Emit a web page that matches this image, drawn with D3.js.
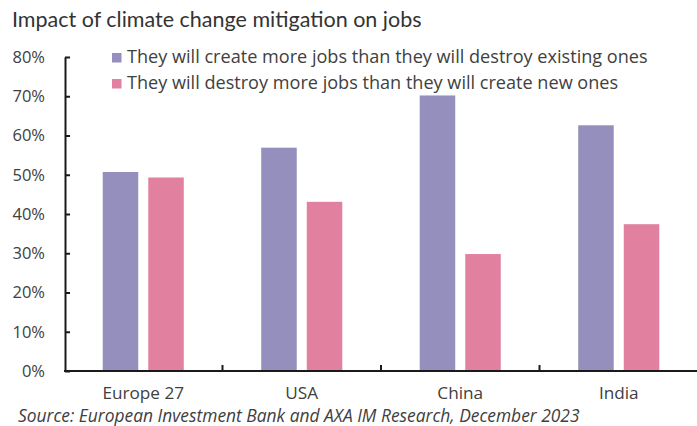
<!DOCTYPE html>
<html>
<head>
<meta charset="utf-8">
<script src="https://cdn.jsdelivr.net/npm/d3@7/dist/d3.min.js"></script>
<style>
  html, body { margin: 0; padding: 0; background: #fff; }
  svg { display: block; }
  text { font-family: "Open Sans", Lato, sans-serif; fill: #404040; }
</style>
</head>
<body>
<svg id="chart" width="697" height="426"></svg>
<script>
// Survey shares by region (fraction of respondents)
const regions = ["Europe 27", "USA", "China", "India"];
const seriesNames = [
  "They will create more jobs than they will destroy existing ones",
  "They will destroy more jobs than they will create new ones"
];
const createMore = [0.507, 0.569, 0.702, 0.626];
const destroyMore = [0.493, 0.431, 0.298, 0.374];
const yTickValues = [0, 0.1, 0.2, 0.3, 0.4, 0.5, 0.6, 0.7, 0.8];
const seriesColors = ["#948fbc", "#e280a0"];

const svg = d3.select("#chart");
const plot = { left: 65, right: 697, top: 57, bottom: 371 };

const rows = regions.map((r, i) => ({ region: r, values: [createMore[i], destroyMore[i]] }));

const x0 = d3.scaleBand().domain(regions).range([64, 698]).paddingInner(0).paddingOuter(0);
const x1 = d3.scaleBand().domain([0, 1]).range([0, x0.bandwidth()]).paddingInner(0.22).paddingOuter(0.85);
const y = d3.scaleLinear().domain([0, 0.8]).range([plot.bottom, plot.top]);

// Chart subtitle
svg.append("text")
  .attr("x", 12).attr("y", 27)
  .style("font-family", "Lato, 'Open Sans', sans-serif")
  .style("font-size", "21.5px")
  .style("fill", "#333")
  .text("Impact of climate change mitigation on jobs");

// Bars
const groups = svg.append("g").selectAll("g")
  .data(rows).join("g")
  .attr("transform", d => `translate(${x0(d.region)},0)`);

groups.selectAll("rect")
  .data(d => d.values.map((v, k) => ({ k, v })))
  .join("rect")
  .attr("x", d => x1(d.k))
  .attr("width", x1.bandwidth())
  .attr("y", d => y(d.v))
  .attr("height", d => y(0) - y(d.v))
  .attr("fill", d => seriesColors[d.k]);

// Y axis with inward ticks
const yAxis = d3.axisLeft(y)
  .tickValues(yTickValues)
  .tickFormat(d3.format(".0%"))
  .tickSizeInner(-5)
  .tickSizeOuter(0)
  .tickPadding(20);

const gy = svg.append("g")
  .attr("transform", `translate(${plot.left},0)`)
  .call(yAxis);
gy.select(".domain").attr("stroke", "#1a1a1a").attr("stroke-width", 2);
gy.selectAll(".tick line").attr("stroke", "#1a1a1a").attr("stroke-width", 2);
gy.selectAll(".tick text")
  .style("font-family", "'Open Sans', Lato, sans-serif")
  .style("font-size", "16.5px")
  .attr("fill", "#404040");

// X axis baseline, category labels and boundary ticks
svg.append("line")
  .attr("x1", plot.left - 1).attr("x2", plot.right)
  .attr("y1", y(0)).attr("y2", y(0))
  .attr("stroke", "#1a1a1a").attr("stroke-width", 2);

const xAxis = d3.axisBottom(x0).tickSize(0);
const gx = svg.append("g")
  .attr("transform", `translate(0,${y(0)})`)
  .call(xAxis);
gx.select(".domain").remove();
gx.selectAll(".tick text")
  .attr("y", 28)
  .attr("dy", null)
  .style("font-family", "'Open Sans', Lato, sans-serif")
  .style("font-size", "17.2px")
  .attr("fill", "#404040");

svg.append("g").selectAll("line")
  .data(regions.slice(0, -1))
  .join("line")
  .attr("x1", d => x0(d) + x0.step())
  .attr("x2", d => x0(d) + x0.step())
  .attr("y1", y(0))
  .attr("y2", y(0) - 6)
  .attr("stroke", "#1a1a1a").attr("stroke-width", 2);

// Legend
const legend = svg.append("g").selectAll("g")
  .data(seriesNames).join("g")
  .attr("transform", (d, i) => `translate(112,${53 + i * 26})`);
legend.append("rect")
  .attr("width", 9.5).attr("height", 9.5)
  .attr("fill", (d, i) => seriesColors[i]);
legend.append("text")
  .attr("x", 15).attr("y", 9.8)
  .style("font-size", "18.1px")
  .text(d => d);

// Source note
svg.append("text")
  .attr("x", 18).attr("y", 421.5)
  .style("font-size", "17.4px")
  .style("font-style", "italic")
  .text("Source: European Investment Bank and AXA IM Research, December 2023");
</script>
</body>
</html>
